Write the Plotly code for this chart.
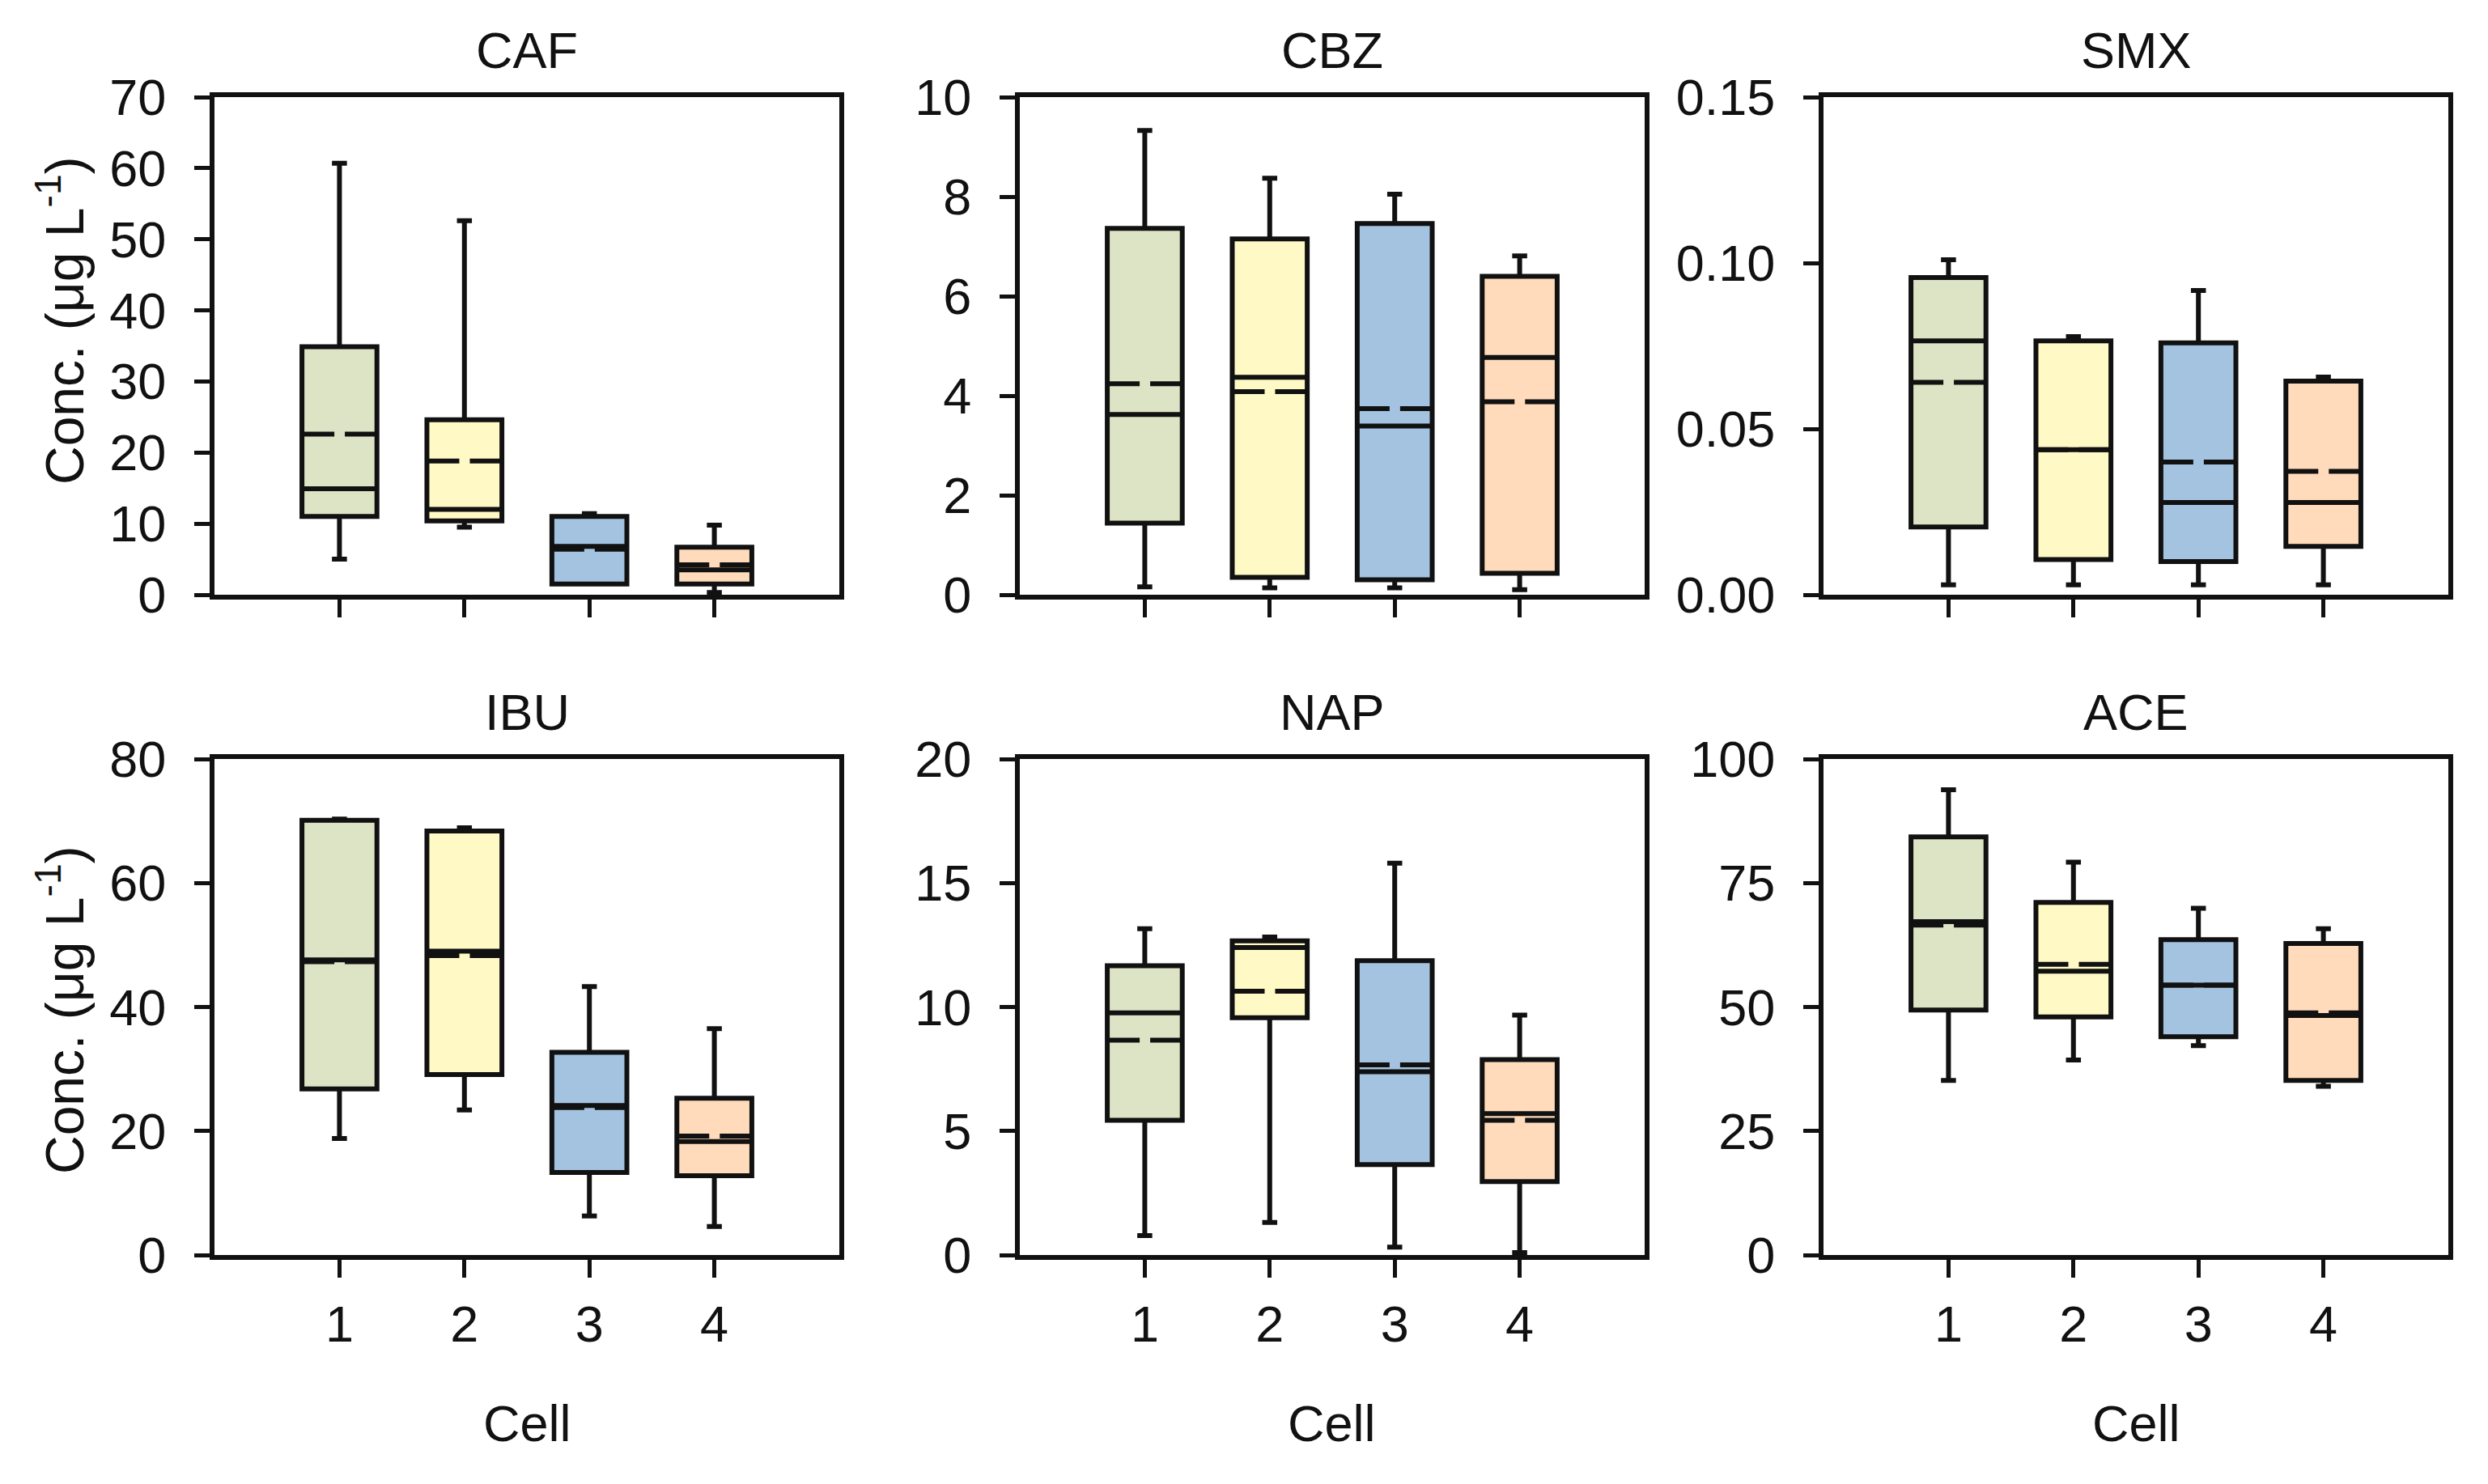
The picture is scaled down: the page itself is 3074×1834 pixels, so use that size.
import plotly.graph_objects as go

cells = [1, 2, 3, 4]
cell_colors = ["#dde3c5", "#fff9c5", "#a3c3e0", "#ffdbbb"]
compounds = ["CAF", "CBZ", "SMX", "IBU", "NAP", "ACE"]

# stats per compound, values for cells 1..4
caf_low = [5.0, 9.5, 1.5, 0.3]
caf_q1 = [11.0, 10.4, 1.5, 1.5]
caf_med = [14.9, 12.0, 6.8, 3.5]
caf_mean = [22.6, 18.8, 6.4, 4.2]
caf_q3 = [34.9, 24.6, 11.0, 6.7]
caf_high = [60.7, 52.6, 11.4, 9.8]

cbz_low = [0.16, 0.14, 0.14, 0.10]
cbz_q1 = [1.44, 0.35, 0.30, 0.43]
cbz_med = [3.62, 4.37, 3.39, 4.77]
cbz_mean = [4.24, 4.08, 3.74, 3.88]
cbz_q3 = [7.36, 7.15, 7.46, 6.40]
cbz_high = [9.33, 8.37, 8.05, 6.81]

smx_low = [0.003, 0.003, 0.003, 0.003]
smx_q1 = [0.0204, 0.0106, 0.0100, 0.0146]
smx_med = [0.0765, 0.0437, 0.0278, 0.0278]
smx_mean = [0.0640, 0.0437, 0.0400, 0.0372]
smx_q3 = [0.0956, 0.0765, 0.0759, 0.0644]
smx_high = [0.101, 0.0778, 0.0917, 0.0656]

ibu_low = [18.8, 23.4, 6.3, 4.6]
ibu_q1 = [26.8, 29.1, 13.3, 12.8]
ibu_med = [47.6, 49.0, 24.1, 18.3]
ibu_mean = [47.3, 48.3, 23.8, 19.2]
ibu_q3 = [70.1, 68.4, 32.7, 25.3]
ibu_high = [70.3, 68.9, 43.3, 36.5]

nap_low = [0.78, 1.31, 0.32, 0.10]
nap_q1 = [5.43, 9.57, 3.65, 2.96]
nap_med = [9.76, 12.40, 7.39, 5.70]
nap_mean = [8.66, 10.64, 7.67, 5.43]
nap_q3 = [11.66, 12.67, 11.87, 7.88]
nap_high = [13.16, 12.82, 15.8, 9.67]

ace_low = [35.2, 39.3, 42.2, 34.0]
ace_q1 = [49.4, 48.0, 44.0, 35.2]
ace_med = [67.2, 57.2, 54.4, 48.3]
ace_mean = [66.5, 58.6, 54.4, 48.8]
ace_q3 = [84.3, 71.1, 63.6, 62.8]
ace_high = [93.8, 79.2, 69.9, 65.8]

stats = {
    "CAF": (caf_low, caf_q1, caf_med, caf_mean, caf_q3, caf_high),
    "CBZ": (cbz_low, cbz_q1, cbz_med, cbz_mean, cbz_q3, cbz_high),
    "SMX": (smx_low, smx_q1, smx_med, smx_mean, smx_q3, smx_high),
    "IBU": (ibu_low, ibu_q1, ibu_med, ibu_mean, ibu_q3, ibu_high),
    "NAP": (nap_low, nap_q1, nap_med, nap_mean, nap_q3, nap_high),
    "ACE": (ace_low, ace_q1, ace_med, ace_mean, ace_q3, ace_high),
}

y_ranges = {"CAF": (0, 70, 10), "CBZ": (0, 10, 2), "SMX": (0, 0.15, 0.05),
            "IBU": (0, 80, 20), "NAP": (0, 20, 5), "ACE": (0, 100, 25)}
y_formats = {"SMX": ".2f"}

# page body has an 8px default margin; size the figure to fit inside it
OFF = 8
W, H = 3074 - 2 * OFF, 1834 - 2 * OFF
FONT = "Liberation Sans, Arial, sans-serif"
INK = "#111111"
BOX_W = 0.6
LW = 6
# panel edges in screen pixels
x_px = [(265, 1037), (1260, 2032), (2253, 3025)]
y_px = [(120, 735), (938, 1551)]
ylabel_center = [396, 1248]


def px(v):
    return (v - OFF) / W


def py(v):
    return 1 - (v - OFF) / H


fig = go.Figure()
for i, comp in enumerate(compounds):
    r, c = divmod(i, 3)
    n = i + 1
    xa = "x" if n == 1 else f"x{n}"
    ya = "y" if n == 1 else f"y{n}"
    low, q1, med, mean, q3, high = stats[comp]
    for k, cell in enumerate(cells):
        fig.add_trace(go.Box(
            x=[cell], q1=[q1[k]], median=[med[k]], q3=[q3[k]],
            lowerfence=[low[k]], upperfence=[high[k]],
            boxpoints=False, width=BOX_W, whiskerwidth=0.2,
            fillcolor=cell_colors[k], line=dict(color=INK, width=LW),
            showlegend=False, xaxis=xa, yaxis=ya, hoverinfo="skip",
        ))
    for k, cell in enumerate(cells):
        fig.add_trace(go.Scatter(
            x=[cell - BOX_W / 2, cell + BOX_W / 2], y=[mean[k], mean[k]],
            mode="lines", line=dict(color=INK, width=LW, dash="40px,13px"),
            showlegend=False, xaxis=xa, yaxis=ya, hoverinfo="skip",
        ))
    x0, x1 = x_px[c]
    y0, y1 = y_px[r]
    lo, hi, dt = y_ranges[comp]
    xkey = "xaxis" if n == 1 else f"xaxis{n}"
    ykey = "yaxis" if n == 1 else f"yaxis{n}"
    fig.update_layout(**{
        xkey: dict(domain=[px(x0), px(x1)], anchor=ya, range=[0, 5],
                   tickmode="array", tickvals=cells,
                   ticktext=[str(v) for v in cells],
                   showticklabels=(r == 1), automargin=False,
                   ticks="outside", ticklen=22, tickwidth=5, tickcolor=INK,
                   showline=True, linewidth=6, linecolor=INK, mirror=True,
                   showgrid=False, zeroline=False, ticklabelstandoff=3,
                   tickfont=dict(family=FONT, size=63, color=INK)),
        ykey: dict(domain=[py(y1), py(y0)], anchor=xa, range=[lo, hi],
                   dtick=dt, tick0=0, tickformat=y_formats.get(comp, ""),
                   automargin=False,
                   ticks="outside", ticklen=19, tickwidth=5, tickcolor=INK,
                   showline=True, linewidth=6, linecolor=INK, mirror=True,
                   showgrid=False, zeroline=False, ticklabelstandoff=22,
                   tickfont=dict(family=FONT, size=63, color=INK)),
    })
    fig.add_annotation(text=comp, x=px((x0 + x1) / 2), y=py(y0 - 58),
                       xref="paper", yref="paper", showarrow=False,
                       xanchor="center", yanchor="middle",
                       font=dict(family=FONT, size=63, color=INK))
    if c == 0:
        fig.add_annotation(text="Conc. (μg L<sup>-1</sup>)", x=px(75),
                           y=py(ylabel_center[r]), xref="paper", yref="paper",
                           showarrow=False, textangle=-90, xanchor="center",
                           yanchor="middle",
                           font=dict(family=FONT, size=66, color=INK))
    if r == 1:
        fig.add_annotation(text="Cell", x=px((x0 + x1) / 2), y=py(1759),
                           xref="paper", yref="paper", showarrow=False,
                           xanchor="center", yanchor="middle",
                           font=dict(family=FONT, size=63, color=INK))

fig.update_layout(template="none", width=W, height=H,
                  margin=dict(l=0, r=0, t=0, b=0, autoexpand=False),
                  paper_bgcolor="white", plot_bgcolor="white", showlegend=False)
fig.write_html("out.html")
